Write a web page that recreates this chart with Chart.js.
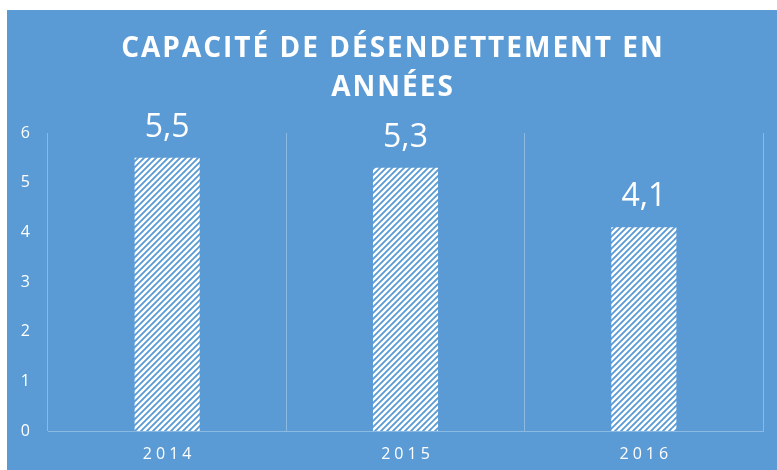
<!DOCTYPE html>
<html><head><meta charset="utf-8">
<script src="https://cdn.jsdelivr.net/npm/chart.js@4"></script>
<style>
html,body{margin:0;padding:0;background:#fff;width:777px;height:470px;overflow:hidden}
#wrap{position:absolute;left:7px;top:10px;width:770px;height:460px;background:#5B9BD5}
</style></head><body>
<div id="wrap"><canvas id="c"></canvas></div>
<script>
const categories = ['2014', '2015', '2016'];
const values = [5.5, 5.3, 4.1];
const yTicks = [0, 1, 2, 3, 4, 5, 6];
const titleLines = ['CAPACITÉ DE DÉSENDETTEMENT EN', 'ANNÉES'];

const BG = '#5B9BD5';
const FONT = "'Open Sans', sans-serif";

function hatch() {
  const p = 6;
  const c = document.createElement('canvas');
  c.width = p; c.height = p;
  const g = c.getContext('2d');
  g.fillStyle = BG; g.fillRect(0, 0, p, p);
  g.strokeStyle = '#ffffff'; g.lineWidth = 2.4; g.lineCap = 'square';
  g.beginPath();
  g.moveTo(-1, p + 1); g.lineTo(p + 1, -1);
  g.moveTo(-p/2, p/2); g.lineTo(p/2, -p/2);
  g.moveTo(p/2, p + p/2); g.lineTo(p + p/2, p/2);
  g.stroke();
  return g.createPattern(c, 'repeat');
}

function spacingFor(t) {
  const s = String(t);
  if (categories.includes(s)) return 4;
  if (titleLines.includes(s)) return 2;
  return 0;
}

const spacingPlugin = {
  id: 'spacing',
  beforeDraw(chart) {
    const ctx = chart.ctx;
    if (ctx.__wrapped) return;
    const orig = ctx.fillText.bind(ctx);
    ctx.fillText = function (t, x, y, mw) {
      const sp = spacingFor(t);
      if (!sp) return mw === undefined ? orig(t, x, y) : orig(t, x, y, mw);
      const prev = ctx.letterSpacing;
      ctx.letterSpacing = sp + 'px';
      const dx = ctx.textAlign === 'center' ? sp / 2 : 0;
      if (mw === undefined) orig(t, x + dx, y); else orig(t, x + dx, y, mw + sp * String(t).length);
      ctx.letterSpacing = prev;
    };
    ctx.__wrapped = true;
  }
};

const labelPlugin = {
  id: 'valueLabels',
  afterDatasetsDraw(chart) {
    const ctx = chart.ctx;
    const meta = chart.getDatasetMeta(0);
    ctx.save();
    ctx.font = "32px " + FONT;
    ctx.fillStyle = '#ffffff';
    ctx.textAlign = 'center';
    ctx.textBaseline = 'alphabetic';
    meta.data.forEach((bar, i) => {
      const v = chart.data.datasets[0].data[i];
      ctx.fillText(String(v).replace('.', ','), bar.x, bar.y - 21);
    });
    ctx.restore();
  }
};

const gridColor = 'rgba(255,255,255,0.3)';

new Chart(document.getElementById('c'), {
  type: 'bar',
  data: {
    labels: categories,
    datasets: [{
      data: values,
      backgroundColor: hatch(),
      borderWidth: 0,
      barPercentage: 0.273,
      categoryPercentage: 1
    }]
  },
  options: {
    responsive: true,
    maintainAspectRatio: false,
    animation: false,
    layout: { padding: 0 },
    plugins: {
      legend: { display: false },
      tooltip: { enabled: false },
      title: {
        display: true,
        text: titleLines,
        color: '#ffffff',
        font: { family: FONT, size: 28, weight: 'bold', lineHeight: 1.41 },
        padding: { top: 19, bottom: 25 }
      }
    },
    scales: {
      x: {
        grid: { display: true, offset: true, color: gridColor, lineWidth: 1, drawTicks: false },
        border: { display: true, color: gridColor, width: 1 },
        ticks: { color: '#ffffff', font: { family: FONT, size: 16 }, padding: 14 },
        afterFit(s) { s.height = 39; }
      },
      y: {
        min: 0, max: 6,
        grid: { display: false, drawTicks: false },
        border: { display: false },
        ticks: { color: '#ffffff', font: { family: FONT, size: 16 }, padding: 18, stepSize: 1 },
        afterBuildTicks(s) { s.ticks = yTicks.map(v => ({ value: v })); },
        afterFit(s) { s.width = 41; }
      },
      yRight: {
        position: 'right',
        display: true,
        grid: { display: false, drawTicks: false },
        border: { display: false },
        ticks: { display: false },
        afterFit(s) { s.width = 14; }
      }
    }
  },
  plugins: [spacingPlugin, labelPlugin]
});
</script>
</body></html>
